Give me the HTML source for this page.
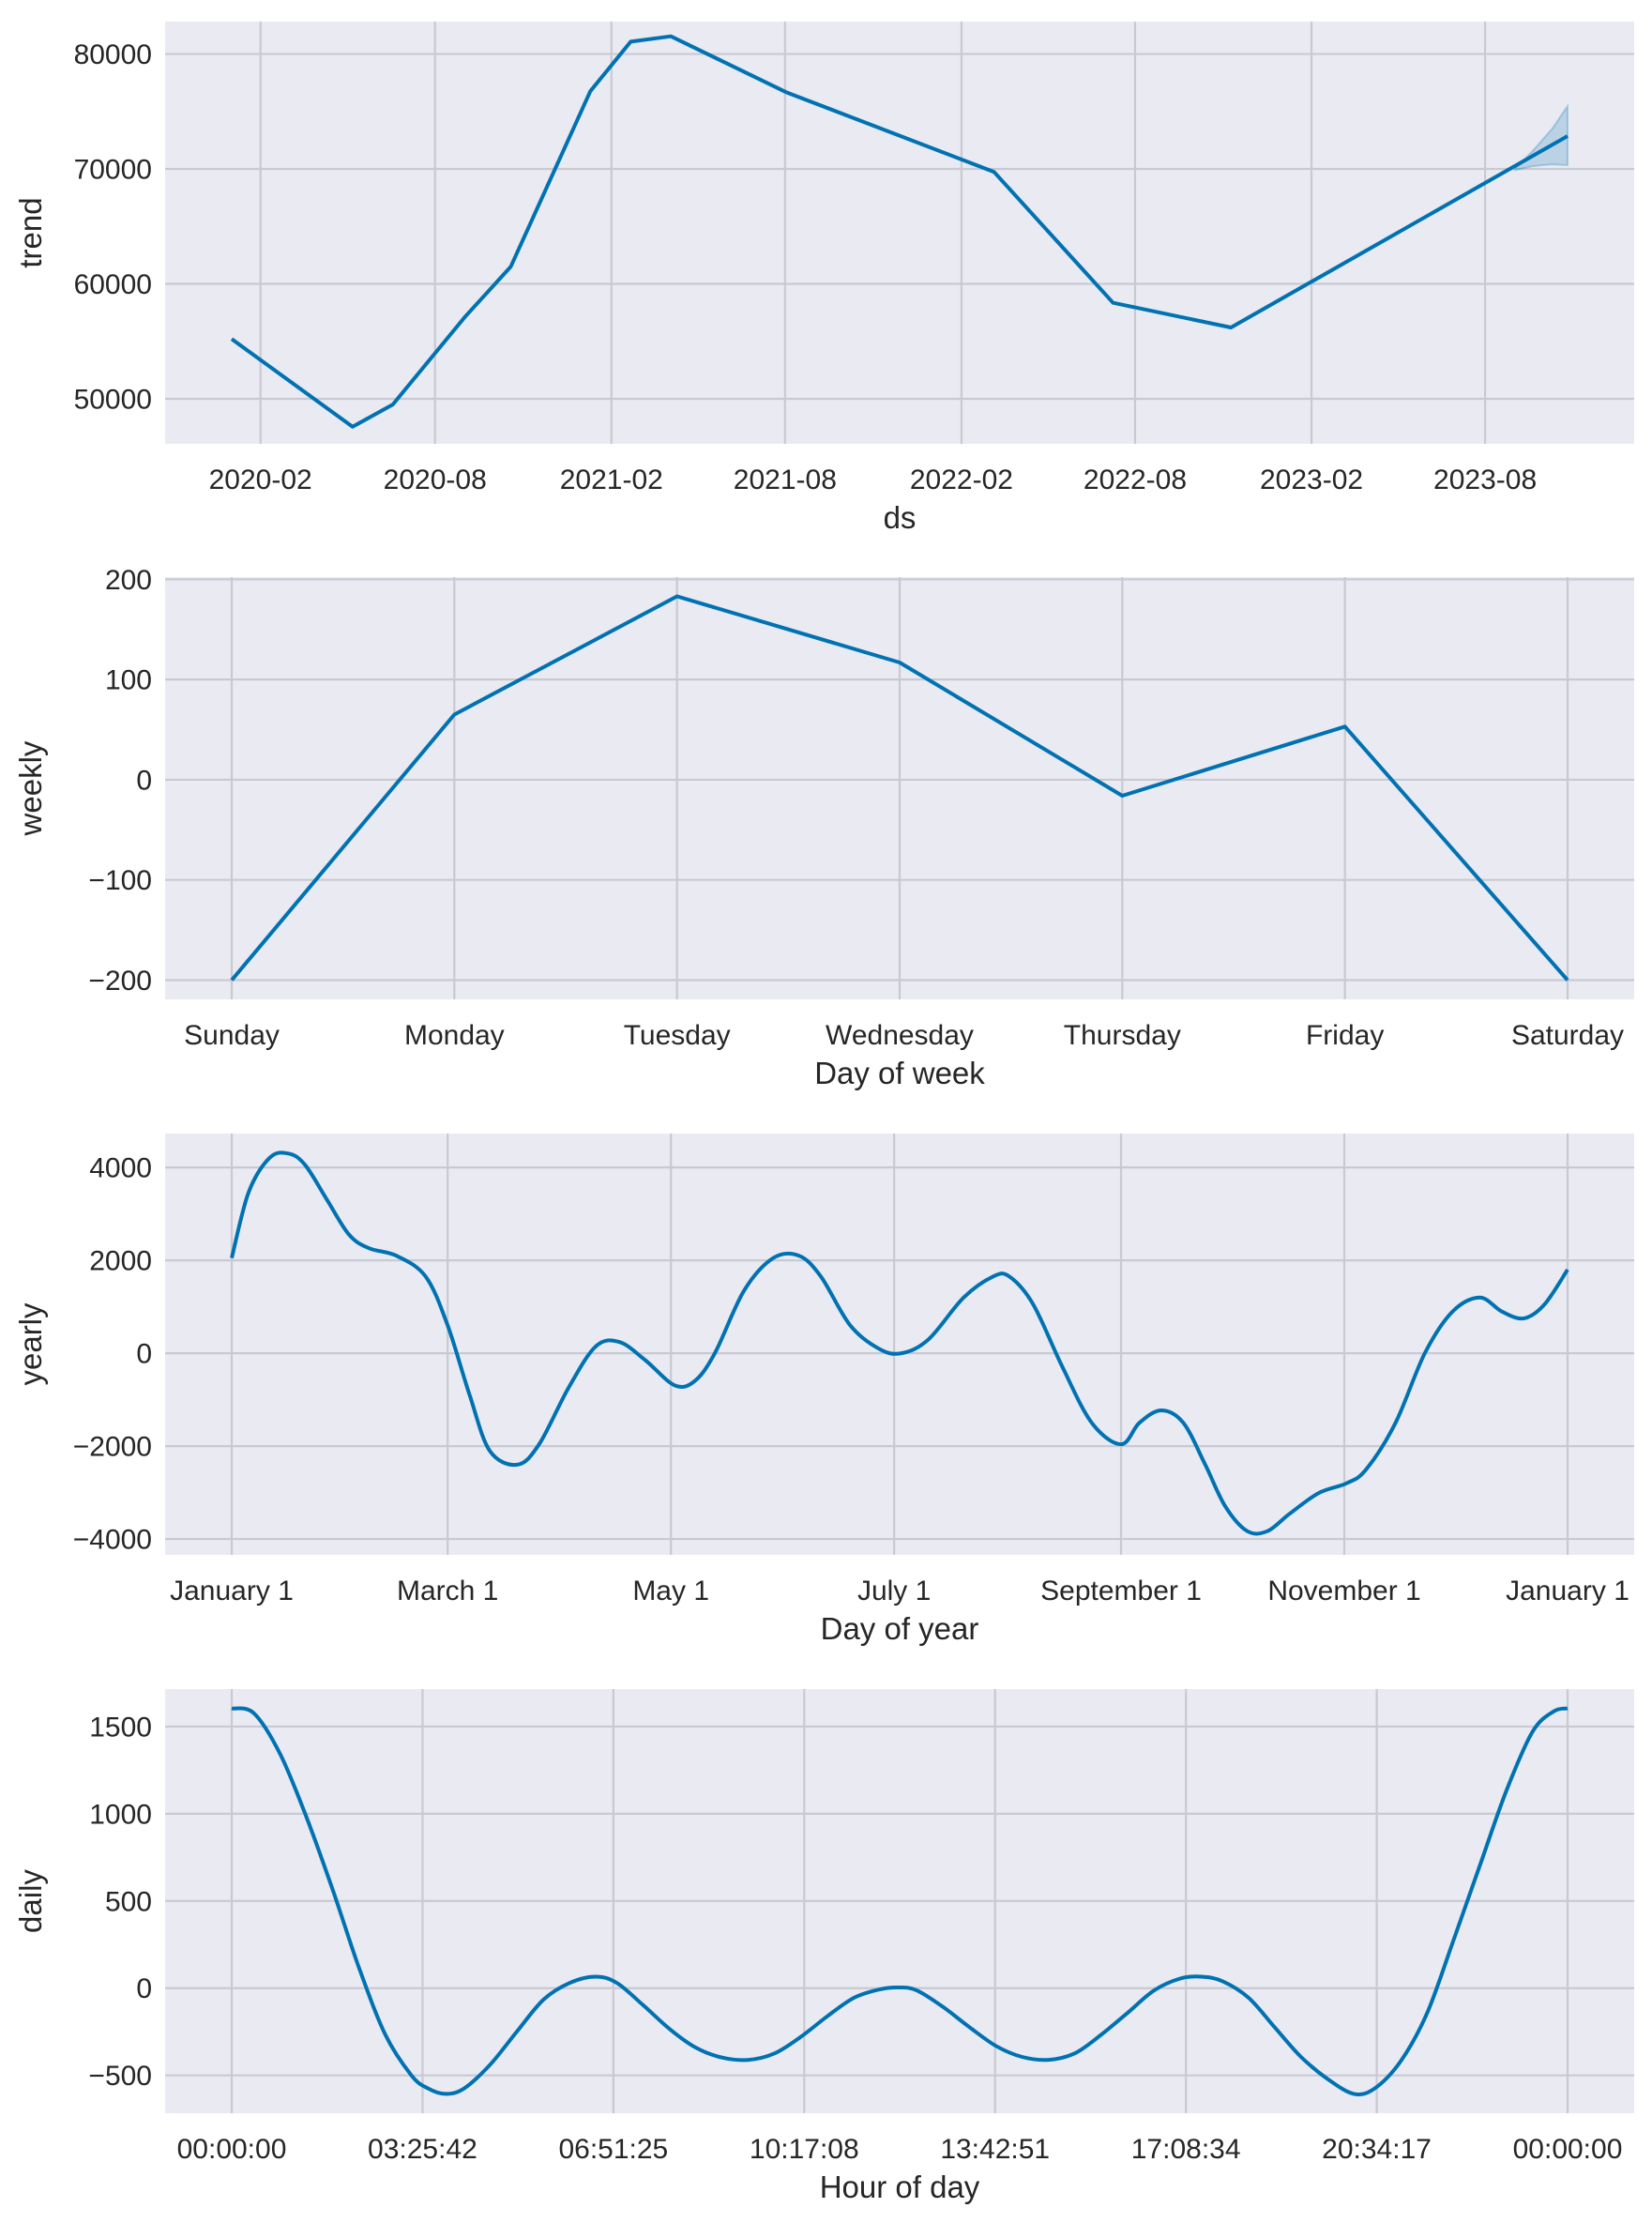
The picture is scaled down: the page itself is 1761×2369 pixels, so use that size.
<!DOCTYPE html>
<html><head><meta charset="utf-8">
<style>
html,body{margin:0;padding:0;background:#fff;}
svg{display:block;font-family:"Liberation Sans",Arial,sans-serif;}
</style></head>
<body>
<svg id="fig" width="1761" height="2369" viewBox="0 0 1761 2369" xmlns="http://www.w3.org/2000/svg"></svg>
<script>
// ---- Trend panel data ----
const trendDates = ["2020-01-02","2020-05-07","2020-06-18","2020-09-01","2020-10-19","2021-01-10","2021-02-21","2021-04-04","2021-08-02","2022-03-07","2022-07-09","2022-11-09","2023-10-26"];
const trendValues = [55200,47570,49500,57100,61500,76760,81070,81540,76680,69730,58350,56200,72860];
const bandDates = ["2023-09-01","2023-09-20","2023-10-10","2023-10-26"];
const bandUpper = [70000,71600,73500,75470];
const bandLower = [69900,70250,70400,70330];
const trendTickLabels = ["2020-02","2020-08","2021-02","2021-08","2022-02","2022-08","2023-02","2023-08"];
const trendYTicks = [50000,60000,70000,80000];
// ---- Weekly ----
const weekDays = ["Sunday","Monday","Tuesday","Wednesday","Thursday","Friday","Saturday"];
const weeklyValues = [-200,65,183,117,-16,53,-200];
const weeklyYTicks = [-200,-100,0,100,200];
// ---- Yearly ----
const yearlyDays = [0,4.6,10.4,15.5,20,26,32,37.5,45,53,59,65,70.5,78,84,92,99.5,106,113,121,126.5,132,140,148,155,161,169,177,183,190.4,200,208,212.5,219,227,235,243,248,254,260,266,271.5,277.5,283,289,297,304.6,310,318,326,333.6,341,347,353,358.7,365];
const yearlyValues = [2050,3460,4210,4300,4060,3310,2560,2260,2100,1650,600,-900,-2100,-2400,-1960,-750,150,240,-150,-690,-600,0,1350,2050,2100,1650,600,90,0,300,1200,1650,1650,1050,-300,-1500,-1960,-1500,-1230,-1500,-2400,-3300,-3830,-3830,-3460,-3010,-2800,-2500,-1500,0,900,1200,900,750,1050,1800];
const yearlyTickDays = [0,59,120,181,243,304,365];
const yearlyTickLabels = ["January 1","March 1","May 1","July 1","September 1","November 1","January 1"];
const yearlyYTicks = [-4000,-2000,0,2000,4000];
// ---- Daily ----
const dailyHours = [0,0.4,0.87,1.34,1.82,2.29,2.76,3.23,3.52,3.84,4.18,4.65,5.13,5.6,6.07,6.54,6.92,7.39,7.87,8.34,8.81,9.29,9.76,10.23,10.7,11.18,11.65,11.99,12.31,12.78,13.26,13.73,14.2,14.68,15.15,15.62,16.1,16.57,17.04,17.42,17.8,18.27,18.74,19.21,19.69,20.16,20.54,21.01,21.48,21.96,22.43,22.9,23.37,23.75,24];
const dailyValues = [1604,1576,1343,983,559,114,-267,-500,-574,-606,-574,-436,-246,-66,30,66,30,-97,-235,-341,-398,-411,-373,-278,-161,-55,-6,4,-13,-108,-225,-331,-394,-411,-373,-267,-140,-13,55,66,40,-55,-225,-394,-521,-606,-574,-415,-140,284,708,1131,1470,1587,1604];
const dailyTickLabels = ["00:00:00","03:25:42","06:51:25","10:17:08","13:42:51","17:08:34","20:34:17","00:00:00"];
const dailyYTicks = [-500,0,500,1000,1500];

const NS="http://www.w3.org/2000/svg";
const fig=document.getElementById('fig');
const AX_L=176, AX_R=1742, DX0=247, DX1=1671;
function mk(tag,attrs,parent){const e=document.createElementNS(NS,tag);for(const k in attrs)e.setAttribute(k,attrs[k]);(parent||fig).appendChild(e);return e;}
function fmt(v){return v<0?"\u2212"+Math.abs(v):String(v);}
function smoothPath(pts){
  let d="M"+pts[0][0].toFixed(1)+","+pts[0][1].toFixed(1);
  for(let i=0;i<pts.length-1;i++){
    const p0=pts[i-1]||pts[i],p1=pts[i],p2=pts[i+1],p3=pts[i+2]||p2;
    const c1=[p1[0]+(p2[0]-p0[0])/6,p1[1]+(p2[1]-p0[1])/6];
    const c2=[p2[0]-(p3[0]-p1[0])/6,p2[1]-(p3[1]-p1[1])/6];
    d+=" C"+c1[0].toFixed(1)+","+c1[1].toFixed(1)+" "+c2[0].toFixed(1)+","+c2[1].toFixed(1)+" "+p2[0].toFixed(1)+","+p2[1].toFixed(1);
  }
  return d;
}
function panel(name,top,bottom,ydom,yticks,xTickXs,xTickLabels,xlabel,ylabel){
  const g=mk('g',{});
  
  
  const ys=v=>bottom-(v-ydom[0])/(ydom[1]-ydom[0])*(bottom-top);
  const bg=mk('rect',{x:AX_L,y:top,width:AX_R-AX_L,height:bottom-top,fill:'#EAEAF2'},g);
  
  
  yticks.forEach(t=>{
    const y=ys(t);
    const gl=mk('line',{x1:AX_L,x2:AX_R,y1:y,y2:y,stroke:'#c9c9d1','stroke-width':2.2},g);
    
    
    const tl=mk('text',{x:AX_L-14,y:y+10.5,'text-anchor':'end','font-size':30,fill:'#262626'},g);
    tl.textContent=fmt(t);
    
    
  });
  xTickXs.forEach((x,i)=>{
    const gl=mk('line',{x1:x,x2:x,y1:top,y2:bottom,stroke:'#c9c9d1','stroke-width':2.2},g);
    
    
    const tl=mk('text',{x:x,y:bottom+48,'text-anchor':'middle','font-size':30,fill:'#262626'},g);
    tl.textContent=xTickLabels[i];
    
    
  });
  const xl=mk('text',{x:(AX_L+AX_R)/2,y:bottom+90,'text-anchor':'middle','font-size':33,fill:'#262626'},g);
  xl.textContent=xlabel;
  
  
  const cy=(top+bottom)/2;
  const yl=mk('text',{x:44,y:cy,'text-anchor':'middle','font-size':33,fill:'#262626',transform:'rotate(-90 44 '+cy+')'},g);
  yl.textContent=ylabel;
  
  
  return {g,ys};
}
// Trend
const day=s=>Date.parse(s)/86400000;
const t0=day(trendDates[0]), t1=day(trendDates[trendDates.length-1]);
const xT=s=>DX0+(day(s)-t0)/(t1-t0)*(DX1-DX0);
const tickDates=trendTickLabels.map(l=>l+"-01");
let p=panel('trend',23,473,[46080,82820],trendYTicks,tickDates.map(xT),trendTickLabels,'ds','trend');
let band="M"+bandDates.map((d,i)=>xT(d).toFixed(1)+","+p.ys(bandUpper[i]).toFixed(1)).join(" L");
for(let i=bandDates.length-1;i>=0;i--) band+=" L"+xT(bandDates[i]).toFixed(1)+","+p.ys(bandLower[i]).toFixed(1);
band+=" Z";
const bEl=mk('path',{d:band,fill:'#0072B2','fill-opacity':0.2,stroke:'#0072B2','stroke-opacity':0.25,'stroke-width':2},p.g);


const tl=mk('polyline',{points:trendDates.map((d,i)=>xT(d).toFixed(1)+","+p.ys(trendValues[i]).toFixed(1)).join(" "),fill:'none',stroke:'#0072B2','stroke-width':4,'stroke-linejoin':'round'},p.g);


// Weekly
const xW=i=>DX0+i/(weekDays.length-1)*(DX1-DX0);
p=panel('weekly',615,1065,[-219.2,202.2],weeklyYTicks,weekDays.map((d,i)=>xW(i)),weekDays,'Day of week','weekly');
const wl=mk('polyline',{points:weeklyValues.map((v,i)=>xW(i).toFixed(1)+","+p.ys(v).toFixed(1)).join(" "),fill:'none',stroke:'#0072B2','stroke-width':4,'stroke-linejoin':'round'},p.g);


// Yearly
const xY=d=>DX0+d/365*(DX1-DX0);
p=panel('yearly',1208,1657,[-4342,4730],yearlyYTicks,yearlyTickDays.map(xY),yearlyTickLabels,'Day of year','yearly');
const yl2=mk('path',{d:smoothPath(yearlyDays.map((d,i)=>[xY(d),p.ys(yearlyValues[i])])),fill:'none',stroke:'#0072B2','stroke-width':4},p.g);


// Daily
const xD=h=>DX0+h/24*(DX1-DX0);
p=panel('daily',1800,2252,[-717,1715],dailyYTicks,dailyTickLabels.map((l,i)=>xD(i*24/7)),dailyTickLabels,'Hour of day','daily');
const dl=mk('path',{d:smoothPath(dailyHours.map((h,i)=>[xD(h),p.ys(dailyValues[i])])),fill:'none',stroke:'#0072B2','stroke-width':4},p.g);


</script>
</body></html>
